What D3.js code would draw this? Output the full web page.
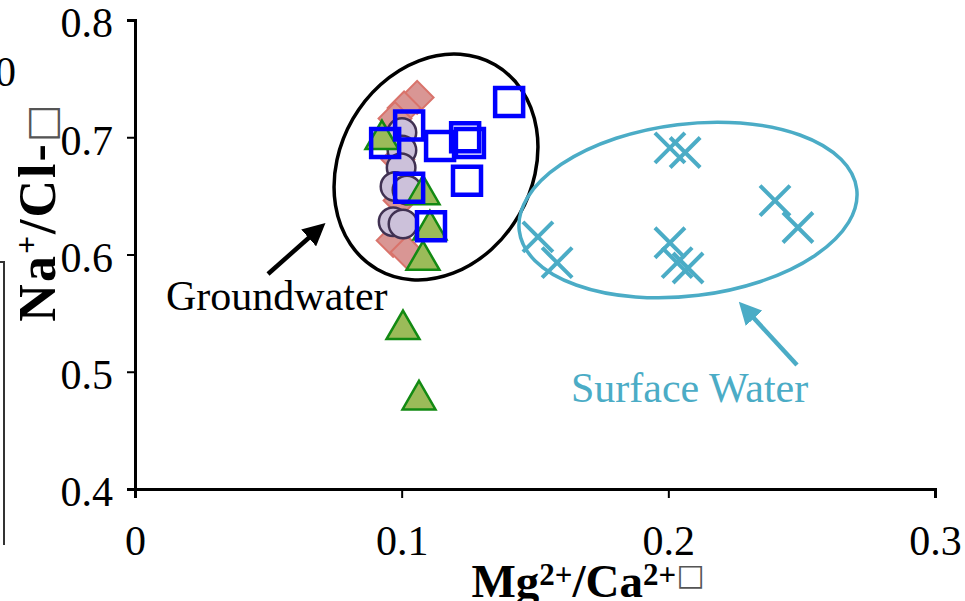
<!DOCTYPE html>
<html>
<head>
<meta charset="utf-8">
<script src="https://cdn.jsdelivr.net/npm/d3@7"></script>
<style>
  body { margin: 0; background: #fff; }
  svg text { font-family: "Liberation Serif", "Times New Roman", Tinos, "DejaVu Serif", serif; }
</style>
</head>
<body>
<div id="chart"></div>
<script>
var serif = '"Liberation Serif", "Times New Roman", Tinos, "DejaVu Serif", serif';

// groundwater groups (Mg/Ca, Na/Cl)
var diamondX = [0.1058, 0.1009, 0.0975, 0.0986, 0.0994, 0.0968, 0.1020];
var diamondY = [0.734, 0.725, 0.716, 0.681, 0.646, 0.612, 0.602];

var circleX = [0.1001, 0.1001, 0.0998, 0.0975, 0.1020, 0.0968, 0.1005];
var circleY = [0.704, 0.689, 0.674, 0.658, 0.655, 0.628, 0.626];

var triangleX = [0.0926, 0.1080, 0.1106, 0.1080, 0.1005, 0.1065];
var triangleY = [0.698, 0.651, 0.621, 0.595, 0.536, 0.476];

var squareX = [0.1403, 0.1028, 0.0938, 0.1144, 0.1238, 0.1256, 0.1245, 0.1028, 0.1110];
var squareY = [0.730, 0.710, 0.695, 0.6925, 0.700, 0.695, 0.663, 0.657, 0.624];

// surface water
var crossX = [0.2006, 0.2063, 0.2400, 0.2486, 0.1511, 0.1583, 0.2006, 0.2033, 0.2074];
var crossY = [0.691, 0.687, 0.646, 0.623, 0.615, 0.593, 0.610, 0.593, 0.5885];

var xTicks = [0, 0.1, 0.2, 0.3];
var yTicks = [0.4, 0.5, 0.6, 0.7, 0.8];

var width = 965, height = 601;
var svg = d3.select("#chart").append("svg")
    .attr("width", width)
    .attr("height", height);

var x = d3.scaleLinear().domain([0, 0.3]).range([135, 935]);
var y = d3.scaleLinear().domain([0.4, 0.8]).range([489, 20]);

function pts(xs, ys) {
  return xs.map(function (v, i) { return [v, ys[i]]; });
}

// stray bits cropped in from the neighbouring figure
svg.append("text").attr("x", -5).attr("y", 86)
    .style("font-family", serif).style("font-size", "42px").text("0");
svg.append("path").attr("d", "M0,262H4V545")
    .attr("fill", "none").attr("stroke", "#333").attr("stroke-width", 2);

// ellipses round the groups
svg.append("ellipse")
    .attr("cx", 436).attr("cy", 167).attr("rx", 96).attr("ry", 118)
    .attr("transform", "rotate(30,436,167)")
    .attr("fill", "none").attr("stroke", "#000").attr("stroke-width", 3.5);

svg.append("ellipse")
    .attr("cx", 688).attr("cy", 210).attr("rx", 170).attr("ry", 86)
    .attr("transform", "rotate(-7,688,210)")
    .attr("fill", "none").attr("stroke", "#4bacc6").attr("stroke-width", 3.5);

// markers
var gD = svg.append("g");
gD.selectAll("path").data(pts(diamondX, diamondY)).enter().append("path")
    .attr("d", d3.symbol().type(d3.symbolSquare).size(540))
    .attr("transform", function (d) { return "translate(" + x(d[0]) + "," + y(d[1]) + ") rotate(45)"; })
    .attr("fill", "#d99694").attr("stroke", "#d9736b").attr("stroke-width", 2);

var gC = svg.append("g");
gC.selectAll("path").data(pts(circleX, circleY)).enter().append("path")
    .attr("d", d3.symbol().type(d3.symbolCircle).size(640))
    .attr("transform", function (d) { return "translate(" + x(d[0]) + "," + y(d[1]) + ")"; })
    .attr("fill", "#ccc1da").attr("stroke", "#403152").attr("stroke-width", 2.5);

var gT = svg.append("g");
gT.selectAll("path").data(pts(triangleX, triangleY)).enter().append("path")
    .attr("d", d3.symbol().type(d3.symbolTriangle).size(470))
    .attr("transform", function (d) { return "translate(" + x(d[0]) + "," + y(d[1]) + ")"; })
    .attr("fill", "#9bbb59").attr("stroke", "#138a13").attr("stroke-width", 2.5);

var gS = svg.append("g");
gS.selectAll("path").data(pts(squareX, squareY)).enter().append("path")
    .attr("d", d3.symbol().type(d3.symbolSquare).size(784))
    .attr("transform", function (d) { return "translate(" + x(d[0]) + "," + y(d[1]) + ")"; })
    .attr("fill", "none").attr("stroke", "#0000ff").attr("stroke-width", 4.5);

var arm = 15;
var gX = svg.append("g");
gX.selectAll("path").data(pts(crossX, crossY)).enter().append("path")
    .attr("d", function (d) {
      var cx = x(d[0]), cy = y(d[1]);
      return "M" + (cx - arm) + "," + (cy - arm) + "L" + (cx + arm) + "," + (cy + arm) +
             "M" + (cx - arm) + "," + (cy + arm) + "L" + (cx + arm) + "," + (cy - arm);
    })
    .attr("fill", "none").attr("stroke", "#4bacc6").attr("stroke-width", 4);

// axes
var xAxis = svg.append("g").attr("transform", "translate(0,489)")
    .call(d3.axisBottom(x).tickValues(xTicks).tickSize(9).tickPadding(27)
      .tickFormat(function (d) { return d === 0 ? "0" : d3.format(".1f")(d); }));
var yAxis = svg.append("g").attr("transform", "translate(135,0)")
    .call(d3.axisLeft(y).tickValues(yTicks).tickSize(8).tickPadding(14).tickFormat(d3.format(".1f")));

[xAxis, yAxis].forEach(function (a) {
  a.attr("font-family", null).attr("font-size", null);
  a.select(".domain").attr("stroke", "#000").attr("stroke-width", 3);
  a.selectAll(".tick line").attr("stroke", "#000").attr("stroke-width", 2);
  a.selectAll(".tick text").attr("fill", "#000")
      .style("font-family", serif).style("font-size", "42px");
});
yAxis.selectAll(".tick text").attr("dy", "0.4em");

// axis titles
var yl = svg.append("text")
    .attr("transform", "translate(55,212) rotate(-90)")
    .attr("text-anchor", "middle")
    .style("font-family", serif)
    .style("letter-spacing", "2px")
    .style("font-size", "52px").style("font-weight", "bold");
yl.append("tspan").text("Na");
yl.append("tspan").attr("baseline-shift", "super").style("font-size", "32px").text("+");
yl.append("tspan").text("/Cl-");
yl.append("tspan").style("font-weight", "normal").style("font-family", "DejaVu Sans")
    .style("font-size", "40px").attr("fill", "#555").text("\u25A1");

var xl = svg.append("text")
    .attr("x", 588).attr("y", 597)
    .attr("text-anchor", "middle")
    .style("font-family", serif)
    .style("font-size", "47px").style("font-weight", "bold");
xl.append("tspan").text("Mg");
xl.append("tspan").attr("dy", -12).style("font-size", "31px").text("2+");
xl.append("tspan").attr("dy", 12).text("/Ca");
xl.append("tspan").attr("dy", -12).style("font-size", "31px").text("2+");
xl.append("tspan").style("font-weight", "normal").style("font-family", "DejaVu Sans")
    .style("font-size", "30px").attr("fill", "#555").text("\u25A1");

// annotations
svg.append("defs").selectAll("marker").data([["hk", "#000"], ["hb", "#4bacc6"]])
  .enter().append("marker")
    .attr("id", function (d) { return d[0]; })
    .attr("viewBox", "0 0 10 10").attr("refX", 2).attr("refY", 5)
    .attr("markerWidth", 5).attr("markerHeight", 5)
    .attr("orient", "auto")
  .append("path").attr("d", "M0,0L10,5L0,10z").attr("fill", function (d) { return d[1]; });

svg.append("line").attr("x1", 268).attr("y1", 274).attr("x2", 312).attr("y2", 235)
    .attr("stroke", "#000").attr("stroke-width", 4.5).attr("marker-end", "url(#hk)");
svg.append("text").attr("x", 166).attr("y", 310)
    .style("font-family", serif)
    .style("font-size", "42px").text("Groundwater");

svg.append("line").attr("x1", 797).attr("y1", 365).attr("x2", 751).attr("y2", 315)
    .attr("stroke", "#4bacc6").attr("stroke-width", 4.5).attr("marker-end", "url(#hb)");
svg.append("text").attr("x", 571).attr("y", 402)
    .attr("fill", "#4bacc6")
    .style("font-family", serif)
    .style("font-size", "42px").text("Surface Water");
</script>
</body>
</html>
